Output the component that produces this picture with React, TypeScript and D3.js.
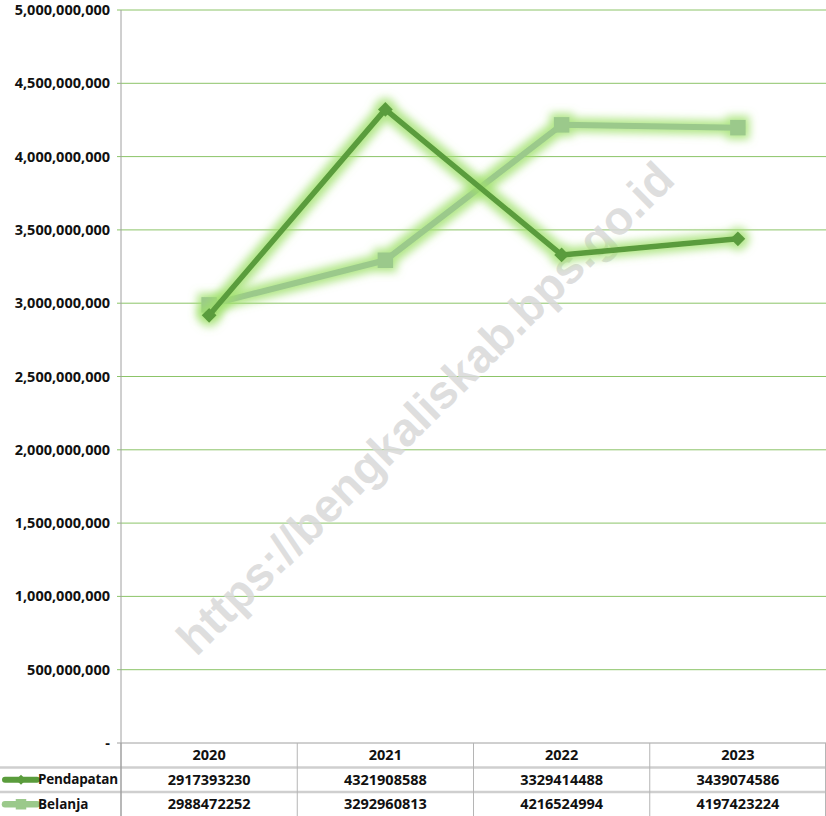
import * as React from "react";
import * as d3 from "d3";

const years = ["2020", "2021", "2022", "2023"];
const pendapatan = [2917393230, 4321908588, 3329414488, 3439074586];
const belanja = [2988472252, 3292960813, 4216524994, 4197423224];
const yTicks = [0, 500000000, 1000000000, 1500000000, 2000000000, 2500000000, 3000000000, 3500000000, 4000000000, 4500000000, 5000000000];

const W = 826;
const H = 816;

function drawChart(svgEl: SVGSVGElement) {
  const svg = d3.select(svgEl);
  svg.selectAll("*").remove();

  const left = 121;
  const right = 826;
  const top = 10;
  const bottom = 743;
  const rowH = 24.5;
  const font = "'Open Sans', 'Liberation Sans', sans-serif";

  const x = d3.scaleBand().domain(years).range([left, right]);
  const y = d3.scaleLinear().domain([0, 5000000000]).range([bottom, top]);

  const defs = svg.append("defs");
  const f = defs.append("filter").attr("id", "glow")
    .attr("x", "-20%").attr("y", "-20%").attr("width", "140%").attr("height", "140%");
  f.append("feMorphology").attr("in", "SourceAlpha").attr("operator", "dilate").attr("radius", 4).attr("result", "d");
  f.append("feGaussianBlur").attr("in", "d").attr("stdDeviation", 4).attr("result", "b");
  f.append("feFlood").attr("flood-color", "#9ee06a").attr("flood-opacity", 0.8);
  f.append("feComposite").attr("in2", "b").attr("operator", "in").attr("result", "g");
  const m = f.append("feMerge");
  m.append("feMergeNode").attr("in", "g");
  m.append("feMergeNode").attr("in", "SourceGraphic");

  // gridlines
  svg.append("g").selectAll("line").data(yTicks.slice(1)).join("line")
    .attr("x1", left - 4).attr("x2", right)
    .attr("y1", (d) => y(d)).attr("y2", (d) => y(d))
    .attr("stroke", "#8cc468").attr("stroke-width", 1);

  // y labels
  const fmt = d3.format(",");
  svg.append("g").selectAll("text").data(yTicks).join("text")
    .attr("x", 110).attr("y", (d) => y(d))
    .attr("dy", "0.35em")
    .attr("text-anchor", "end")
    .style("font-family", font).style("font-weight", 700).style("font-size", "14.5px")
    .attr("fill", "#111")
    .text((d) => (d === 0 ? "-" : fmt(d)));

  // axis lines
  svg.append("line").attr("x1", left).attr("x2", left).attr("y1", top).attr("y2", bottom)
    .attr("stroke", "#a0a0a0");
  svg.append("line").attr("x1", left - 4).attr("x2", right).attr("y1", bottom).attr("y2", bottom)
    .attr("stroke", "#a0a0a0");

  // watermark
  svg.append("text")
    .attr("transform", "translate(425,408) rotate(-44.7)")
    .attr("text-anchor", "middle").attr("dy", "0.35em")
    .style("font-family", "'Liberation Sans', Arial, sans-serif").style("font-weight", 700)
    .style("font-size", "47px")
    .attr("fill", "#d9d9d9").attr("fill-opacity", 0.85)
    .text("https://bengkaliskab.bps.go.id");

  const cx = (d: string) => (x(d) as number) + x.bandwidth() / 2;

  const series = [
    { name: "Belanja", values: belanja, color: "#9bc98b", width: 6, shape: "square" },
    { name: "Pendapatan", values: pendapatan, color: "#5a9c3c", width: 5.5, shape: "diamond" },
  ];

  const line = d3.line<number>().x((_, i) => cx(years[i])).y((d) => y(d));
  // diamond = square turned 45°
  const diamond = d3.symbol().type(d3.symbolSquare).size(110);
  const square = d3.symbol().type(d3.symbolSquare).size(240);

  series.forEach((s) => {
    const g = svg.append("g").attr("filter", "url(#glow)");
    g.append("path").datum(s.values).attr("d", line)
      .attr("fill", "none").attr("stroke", s.color).attr("stroke-width", s.width)
      .attr("stroke-linejoin", "round");
    g.selectAll("path.m").data(s.values).join("path")
      .attr("class", "m")
      .attr("d", s.shape === "square" ? square : diamond)
      .attr("transform", (d, i) => `translate(${cx(years[i])},${y(d)})` + (s.shape === "diamond" ? " rotate(45)" : ""))
      .attr("fill", s.color);
  });

  // data table
  const tbl = svg.append("g");
  [bottom + rowH, bottom + 2 * rowH].forEach((ly) => {
    tbl.append("line").attr("x1", 0).attr("x2", right).attr("y1", ly).attr("y2", ly)
      .attr("stroke", "#cfcfcf").attr("stroke-width", 2.5);
  });
  years.forEach((yr, i) => {
    const xb = (x(yr) as number) + x.bandwidth();
    if (i < years.length - 1) {
      tbl.append("line").attr("x1", xb).attr("x2", xb).attr("y1", bottom).attr("y2", H)
        .attr("stroke", "#b5b5b5");
    }
  });
  tbl.append("line").attr("x1", left).attr("x2", left).attr("y1", bottom).attr("y2", H)
    .attr("stroke", "#a0a0a0").attr("stroke-width", 1.5);
  tbl.append("line").attr("x1", right - 0.5).attr("x2", right - 0.5).attr("y1", bottom).attr("y2", H)
    .attr("stroke", "#b5b5b5");

  const textStyle = (t: d3.Selection<SVGTextElement, any, any, any>, size = 14.5) =>
    t.style("font-family", font).style("font-weight", 700).style("font-size", `${size}px`).attr("fill", "#111");

  tbl.selectAll("text.h").data(years).join("text").attr("class", "h")
    .attr("x", (d) => cx(d)).attr("y", bottom + rowH / 2).attr("dy", "0.35em")
    .attr("text-anchor", "middle").call(textStyle).text((d) => d);

  const rowSeries = [series[1], series[0]];
  rowSeries.forEach((s, r) => {
    const ry = bottom + rowH * (r + 1) + rowH / 2;
    tbl.selectAll(`text.v${r}`).data(s.values).join("text").attr("class", `v${r}`)
      .attr("x", (_, i) => cx(years[i])).attr("y", ry).attr("dy", "0.35em")
      .attr("text-anchor", "middle").call(textStyle).text((d) => String(d));
    tbl.append("line").attr("x1", 5).attr("x2", 37).attr("y1", ry).attr("y2", ry)
      .attr("stroke", s.color).attr("stroke-width", s.width + 0.5).attr("stroke-linecap", "round");
    tbl.append("path")
      .attr("d", d3.symbol().type(d3.symbolSquare).size(s.shape === "square" ? 110 : 50)())
      .attr("transform", `translate(21,${ry})` + (s.shape === "diamond" ? " rotate(45)" : ""))
      .attr("fill", s.color);
    tbl.append("text").attr("x", 38).attr("y", ry).attr("dy", "0.35em")
      .call(textStyle, 13.5).attr("textLength", s.name === "Pendapatan" ? 80 : null)
      .text(s.name);
  });
}

const App: React.FunctionComponent = () => {
  const ref = React.useRef<SVGSVGElement>(null);
  React.useEffect(() => {
    if (ref.current) drawChart(ref.current);
  }, []);
  return (
    <svg ref={ref} width={W} height={H}
      style={{ position: "absolute", left: 0, top: 0, background: "#fff" }} />
  );
};

export default App;
